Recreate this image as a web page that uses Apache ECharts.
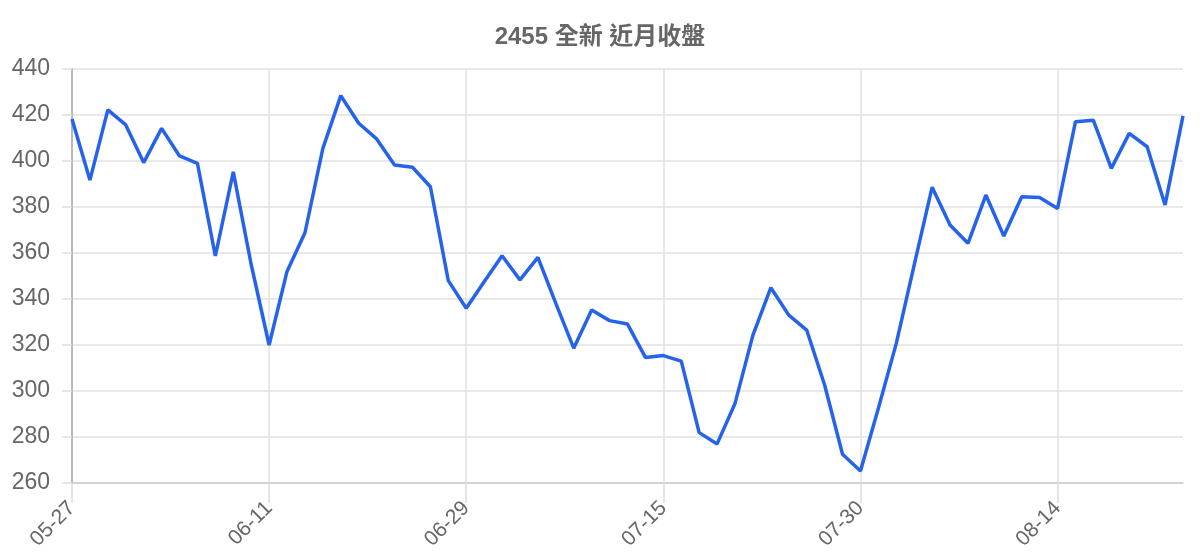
<!DOCTYPE html>
<html>
<head>
<meta charset="utf-8">
<script src="https://cdn.jsdelivr.net/npm/echarts@6/dist/echarts.min.js"></script>
<style>
  html, body { margin: 0; padding: 0; background: #fff; }
  #main { width: 1200px; height: 560px; }
</style>
</head>
<body>
<div id="main"></div>
<script>
// 日期 (月-日)
const dates = [
  '05-27','05-28','05-29','05-30','05-31','06-03','06-04','06-05','06-06','06-07','06-10',
  '06-11','06-12','06-13','06-14','06-17','06-18','06-19','06-20','06-21','06-24','06-26',
  '06-29','07-01','07-02','07-03','07-04','07-05','07-08','07-09','07-10','07-11','07-12',
  '07-15','07-16','07-17','07-18','07-19','07-22','07-23','07-24','07-25','07-26','07-29',
  '07-30','07-31','08-01','08-02','08-05','08-06','08-07','08-08','08-09','08-12','08-13',
  '08-14','08-15','08-16','08-19','08-20','08-21','08-22','08-23'
];
// 收盤價
const closes = [
  418.3, 391.7, 422.2, 415.7, 399.3, 414.2, 402.2, 399.0, 358.7, 395.3, 355.0,
  320.0, 352.0, 368.8, 405.5, 428.4, 416.4, 409.6, 398.3, 397.3, 388.8, 348.0,
  336.0, 347.5, 358.8, 348.3, 358.1, 338.1, 318.6, 335.2, 330.6, 329.1, 314.6,
  315.4, 313.0, 281.9, 277.0, 294.6, 324.3, 344.9, 333.0, 326.5, 302.6, 272.5,
  265.2, 292.5, 320.7, 354.8, 388.6, 372.2, 364.2, 385.2, 367.4, 384.5, 384.1,
  379.4, 417.1, 417.7, 396.8, 412.0, 406.2, 380.9, 419.6
];
const yMin = 260, yMax = 440, yStep = 20;

const myChart = echarts.init(document.getElementById('main'));
myChart.setOption({
  animation: false,
  title: {
    text: '2455 全新 近月收盤',
    left: 'center',
    top: 20,
    textStyle: { color: '#666', fontSize: 24, fontWeight: 'bold', fontFamily: 'Liberation Sans, Noto Sans CJK TC' }
  },
  grid: { left: 72, right: 17, top: 69, bottom: 77 },
  xAxis: {
    type: 'category',
    data: dates,
    boundaryGap: false,
    axisLine: { show: true, lineStyle: { color: '#ccc', width: 1.5 } },
    axisTick: { show: true, interval: 10, length: 20, lineStyle: { color: '#ddd', width: 1.5 } },
    axisLabel: {
      interval: 10, rotate: 45, margin: 22,
      color: '#666', fontSize: 21, fontFamily: 'Liberation Sans'
    },
    splitLine: { show: true, interval: 10, lineStyle: { color: '#e2e2e2', width: 1.5 } }
  },
  yAxis: {
    type: 'value',
    min: yMin, max: yMax, interval: yStep,
    axisLine: { show: true, lineStyle: { color: '#aaa', width: 1.5 } },
    axisTick: { show: true, length: 10, lineStyle: { color: '#ddd', width: 1.5 } },
    axisLabel: { color: '#666', fontSize: 23, margin: 22, fontFamily: 'Liberation Sans' },
    splitLine: { show: true, lineStyle: { color: '#e2e2e2', width: 1.5 } }
  },
  series: [{
    type: 'line',
    data: closes,
    showSymbol: false,
    lineStyle: { color: '#2563eb', width: 3.5 },
    itemStyle: { color: '#2563eb' }
  }]
});
window.onresize = function () { myChart.resize(); };
</script>
</body>
</html>
